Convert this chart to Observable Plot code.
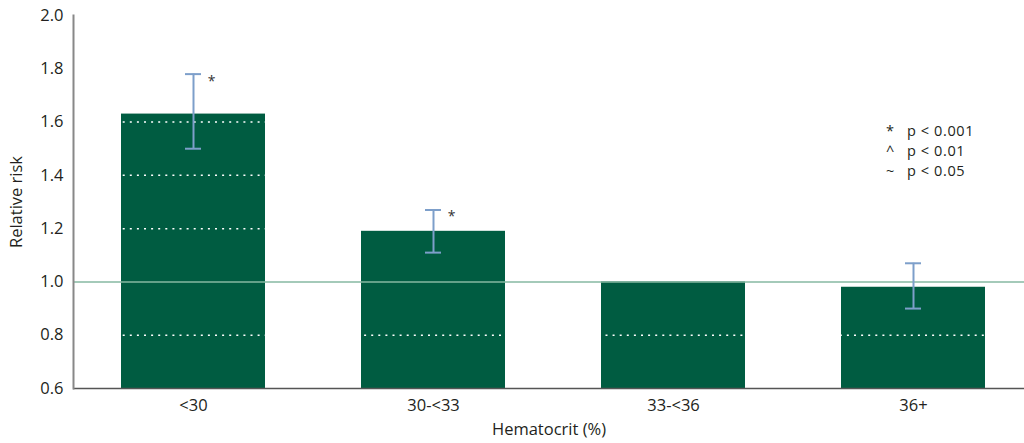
<!DOCTYPE html>
<html>
<head>
<meta charset="utf-8">
<script src="https://cdn.jsdelivr.net/npm/d3@7"></script>
<script src="https://cdn.jsdelivr.net/npm/@observablehq/plot@0.6"></script>
<style>
  html, body { margin: 0; padding: 0; background: #fff; }
  #chart { position: relative; width: 1024px; height: 443px; font-family: "Open Sans", sans-serif; }
  #legend { position: absolute; left: 886px; top: 121px; font-size: 14.5px; line-height: 20px; color: #231f20; }
  #legend span.sym { display: inline-block; width: 21px; }
  #legend span.txt { letter-spacing: 0.6px; }
</style>
</head>
<body>
<div id="chart">
  <div id="legend">
    <div><span class="sym">*</span><span class="txt">p &lt; 0.001</span></div>
    <div><span class="sym">^</span><span class="txt">p &lt; 0.01</span></div>
    <div><span class="sym">~</span><span class="txt">p &lt; 0.05</span></div>
  </div>
</div>
<script>
// Relative risk by hematocrit group, with confidence intervals
const groups = ["<30", "30-<33", "33-<36", "36+"];
const risk   = [1.63, 1.19, 1.00, 0.98];
const lower  = [1.50, 1.11, null, 0.90];
const upper  = [1.78, 1.27, null, 1.07];
const marks  = ["*", "*", "", ""];
const yTicks = [0.6, 0.8, 1.0, 1.2, 1.4, 1.6, 1.8, 2.0];
const gridValues = [0.8, 1.2, 1.4, 1.6, 1.8];

const rows = groups.map((g, i) => ({group: g, risk: risk[i], lo: lower[i], hi: upper[i], sig: marks[i]}));
const withCI = rows.filter(d => d.lo != null);

const green = "#005c41";
const ciColor = "#7d9fca";
const font = "'Open Sans', sans-serif";

const chart = Plot.plot({
  width: 1024,
  height: 443,
  marginTop: 15,
  marginBottom: 55,
  marginLeft: 73,
  marginRight: 0,
  style: {fontFamily: font, fontSize: "16.5px", color: "#231f20", background: "transparent"},
  x: {domain: groups, paddingInner: 0.4, paddingOuter: 0.181, align: 0.552},
  y: {domain: [0.6, 2.0]},
  marks: [
    Plot.barY(rows, {x: "group", y1: 0.6, y2: "risk", fill: green}),
    Plot.ruleY(gridValues, {stroke: "white", strokeWidth: 1.5, strokeDasharray: "2,5.1"}),
    Plot.ruleY([1.0], {stroke: "#86b8a2", strokeWidth: 1.5}),
    Plot.ruleX(withCI, {x: "group", y1: "lo", y2: "hi", stroke: ciColor, strokeWidth: 2}),
    Plot.tickY(withCI, {x: "group", y: "lo", stroke: ciColor, strokeWidth: 2, insetLeft: 64, insetRight: 64}),
    Plot.tickY(withCI, {x: "group", y: "hi", stroke: ciColor, strokeWidth: 2, insetLeft: 64, insetRight: 64}),
    Plot.text(withCI, {x: "group", y: "hi", text: "sig", dx: 18, dy: 7, fontSize: 14, fill: "#333"}),
    Plot.ruleY([0.6], {stroke: "#555", strokeWidth: 1.5}),
    Plot.frame({anchor: "left", stroke: "#888", strokeWidth: 2}),
    Plot.axisY({ticks: yTicks, tickFormat: d3.format(".1f"), tickSize: 0, tickPadding: 10,
      label: "Relative risk", labelAnchor: "center", labelOffset: 63, labelArrow: "none", fontSize: 16.5}),
    Plot.axisX({tickSize: 0, tickPadding: 11, label: "Hematocrit (%)", labelAnchor: "center",
      labelOffset: 46, labelArrow: "none", fontSize: 16.5})
  ]
});
document.getElementById("chart").prepend(chart);
</script>
</body>
</html>
